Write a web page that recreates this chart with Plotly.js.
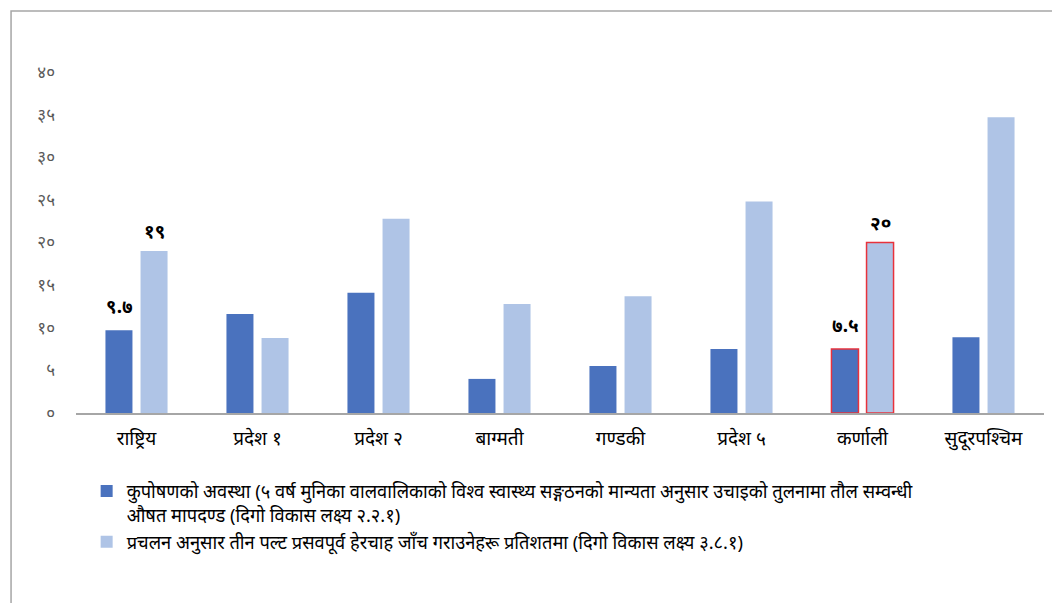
<!DOCTYPE html>
<html>
<head>
<meta charset="utf-8">
<script src="https://cdn.plot.ly/plotly-3.0.1.min.js"></script>
<style>html,body{margin:0;padding:0;background:#fff;} #chart{width:1052px;height:603px;}</style>
</head>
<body>
<div id="chart"></div>
<script>
const categories = ['राष्ट्रिय','प्रदेश १','प्रदेश २','बाग्मती','गण्डकी','प्रदेश ५','कर्णाली','सुदूरपश्चिम'];
const malnutrition = [9.7, 11.6, 14.1, 4.0, 5.5, 7.5, 7.5, 8.9];
const antenatal = [19, 8.8, 22.8, 12.8, 13.7, 24.8, 20, 34.7];
const malnutritionLabels = ['९.७','','','','','','७.५',''];
const antenatalLabels = ['१९','','','','','','२०',''];
const highlight = [false,false,false,false,false,false,true,false];
const yTickVals = [0,5,10,15,20,25,30,35,40];
const yTickText = ['०','५','१०','१५','२०','२५','३०','३५','४०'];
const seriesNames = [
  'कुपोषणको अवस्था (५ वर्ष मुनिका वालवालिकाको विश्व स्वास्थ्य सङ्गठनको मान्यता अनुसार उचाइको तुलनामा तौल सम्वन्धी<br>औषत मापदण्ड (दिगो विकास लक्ष्य २.२.१)',
  'प्रचलन अनुसार तीन पल्ट प्रसवपूर्व हेरचाह जाँच गराउनेहरू प्रतिशतमा (दिगो विकास लक्ष्य ३.८.१)'
];

const darkBlue = '#4A72BE';
const lightBlue = '#AFC4E6';
const red = '#E8323C';

const traces = [
  {type:'bar', x:categories, y:malnutrition, name:seriesNames[0],
   marker:{color:darkBlue, line:{color:highlight.map(h=>h?red:darkBlue), width:highlight.map(h=>h?1.5:0)}},
   hoverinfo:'x+y'},
  {type:'bar', x:categories, y:antenatal, name:seriesNames[1],
   marker:{color:lightBlue, line:{color:highlight.map(h=>h?red:lightBlue), width:highlight.map(h=>h?1.5:0)}},
   hoverinfo:'x+y'}
];

const annotations = [];
categories.forEach((c,i)=>{
  if (malnutritionLabels[i]) annotations.push({x:c, y:malnutrition[i], xref:'x', yref:'y', text:'<b>'+malnutritionLabels[i]+'</b>', showarrow:false, xshift:-17.5, yshift:24, font:{size:19, color:'#000'}});
  if (antenatalLabels[i]) annotations.push({x:c, y:antenatal[i], xref:'x', yref:'y', text:'<b>'+antenatalLabels[i]+'</b>', showarrow:false, xshift:17.5, yshift:20, font:{size:19, color:'#000'}});
});

const layout = {
  width:1052, height:603,
  margin:{l:76, r:8, t:72, b:190},
  paper_bgcolor:'#fff', plot_bgcolor:'#fff',
  font:{family:'"Noto Sans", "Liberation Serif", sans-serif', color:'#000'},
  barmode:'group', bargap:0.42, bargroupgap:0.23,
  showlegend:true,
  legend:{x:0.011, xanchor:'left', y:-0.175, yanchor:'top', orientation:'v', valign:'top',
    font:{size:18.3, color:'#000'}, tracegroupgap:10, bgcolor:'rgba(0,0,0,0)'},
  xaxis:{type:'category', showgrid:false, zeroline:false, showline:true, linecolor:'#A6A6A6', linewidth:1.5,
    ticks:'', tickfont:{size:19, color:'#000'}, ticklabelstandoff:8, fixedrange:true},
  yaxis:{range:[0,40], showgrid:false, zeroline:false, showline:false, ticks:'',
    tickmode:'array', tickvals:yTickVals, ticktext:yTickText,
    tickfont:{size:17, color:'#595959'}, ticklabelstandoff:20, fixedrange:true},
  annotations:annotations,
  shapes:[{type:'rect', xref:'paper', yref:'paper', x0:-0.0671, x1:1.2, y0:-2, y1:1.1789,
    line:{color:'#A6A6A6', width:1.5}, fillcolor:'rgba(0,0,0,0)', layer:'below'}]
};

Plotly.newPlot('chart', traces, layout, {displayModeBar:false, staticPlot:true});
</script>
</body>
</html>
